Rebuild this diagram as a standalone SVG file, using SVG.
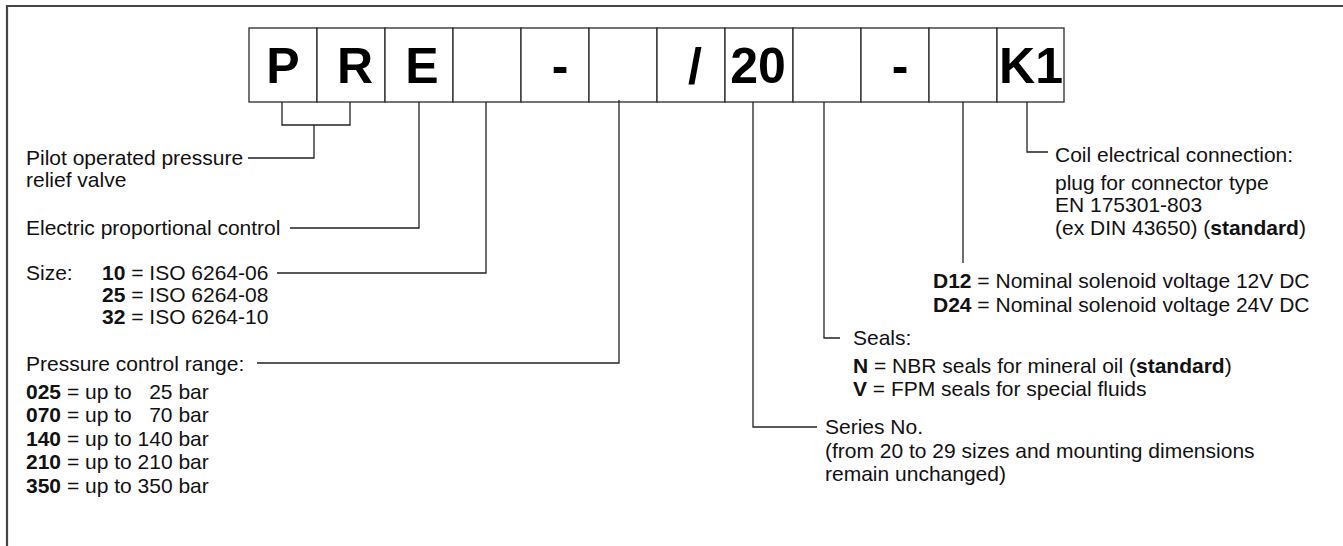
<svg xmlns="http://www.w3.org/2000/svg" width="1343" height="546" viewBox="0 0 1343 546">
<style>
.frame{fill:none;stroke:#444;stroke-width:2.2}
.box{fill:#fff;stroke:#2a2a2a;stroke-width:1.3}
.code{font-family:"Liberation Sans",Arial,sans-serif;font-weight:bold;font-size:50px;text-anchor:middle;fill:#000}
.t{font-family:"Liberation Sans",Arial,sans-serif;font-size:21px;fill:#111}
.b{font-weight:bold}
.conn{fill:none;stroke:#222;stroke-width:1.3}
</style>
<rect width="1343" height="546" fill="#fff"/>
<path class="frame" d="M7,546 V6 H1343"/>
<g id="code">
<g id="box-P"><rect class="box" x="249" y="28" width="68" height="74"/><text class="code" x="283" y="83">P</text></g>
<g id="box-R"><rect class="box" x="317" y="28" width="68" height="74"/><text class="code" x="355" y="83">R</text></g>
<g id="box-E"><rect class="box" x="385" y="28" width="68" height="74"/><text class="code" x="422" y="83">E</text></g>
<g id="box-size"><rect class="box" x="453" y="28" width="68" height="74"/></g>
<g id="box-dash1"><rect class="box" x="521" y="28" width="68" height="74"/><text class="code" x="560" y="83">-</text></g>
<g id="box-pressure"><rect class="box" x="589" y="28" width="68" height="74"/></g>
<g id="box-slash"><rect class="box" x="657" y="28" width="68" height="74"/><text class="code" x="695" y="83">/</text></g>
<g id="box-series"><rect class="box" x="725" y="28" width="68" height="74"/><text class="code" x="758" y="83">20</text></g>
<g id="box-seals"><rect class="box" x="793" y="28" width="68" height="74"/></g>
<g id="box-dash2"><rect class="box" x="861" y="28" width="68" height="74"/><text class="code" x="900" y="83">-</text></g>
<g id="box-voltage"><rect class="box" x="929" y="28" width="68" height="74"/></g>
<g id="box-K1"><rect class="box" x="997" y="28" width="67" height="74"/><text class="code" x="1031" y="83">K1</text></g>
</g>
<g id="connectors">
<path class="conn" d="M282,102 V125 H350 V102 M314,125 V158 H248"/>
<path class="conn" d="M419,102 V228 H290"/>
<path class="conn" d="M486,102 V273 H277"/>
<path class="conn" d="M619,100 V363 H257"/>
<path class="conn" d="M753,102 V427 H817"/>
<path class="conn" d="M824,102 V338 H840"/>
<path class="conn" d="M963,102 V263"/>
<path class="conn" d="M1027,102 V152 H1048"/>
</g>
<g id="label-pilot">
<text class="t" x="26" y="165">Pilot operated pressure</text>
<text class="t" x="26" y="187">relief valve</text>
</g>
<g id="label-electric">
<text class="t" x="26" y="235">Electric proportional control</text>
</g>
<g id="label-size">
<text class="t" x="26" y="280">Size:</text>
<text class="t" x="102" y="280"><tspan class="b">10</tspan> = ISO 6264-06</text>
<text class="t" x="102" y="302"><tspan class="b">25</tspan> = ISO 6264-08</text>
<text class="t" x="102" y="324"><tspan class="b">32</tspan> = ISO 6264-10</text>
</g>
<g id="label-pressure">
<text class="t" x="26" y="371">Pressure control range:</text>
<text class="t" x="26" y="399" xml:space="preserve"><tspan class="b">025</tspan> = up to   25 bar</text>
<text class="t" x="26" y="422" xml:space="preserve"><tspan class="b">070</tspan> = up to   70 bar</text>
<text class="t" x="26" y="446"><tspan class="b">140</tspan> = up to 140 bar</text>
<text class="t" x="26" y="469"><tspan class="b">210</tspan> = up to 210 bar</text>
<text class="t" x="26" y="493"><tspan class="b">350</tspan> = up to 350 bar</text>
</g>
<g id="label-series">
<text class="t" x="825" y="434">Series No.</text>
<text class="t" x="825" y="458">(from 20 to 29 sizes and mounting dimensions</text>
<text class="t" x="825" y="481">remain unchanged)</text>
</g>
<g id="label-seals">
<text class="t" x="853" y="345">Seals:</text>
<text class="t" x="853" y="373"><tspan class="b">N</tspan> = NBR seals for mineral oil (<tspan class="b">standard</tspan>)</text>
<text class="t" x="853" y="396"><tspan class="b">V</tspan> = FPM seals for special fluids</text>
</g>
<g id="label-voltage">
<text class="t" x="933" y="288"><tspan class="b">D12</tspan> = Nominal solenoid voltage 12V DC</text>
<text class="t" x="933" y="312"><tspan class="b">D24</tspan> = Nominal solenoid voltage 24V DC</text>
</g>
<g id="label-coil">
<text class="t" x="1055" y="162">Coil electrical connection:</text>
<text class="t" x="1055" y="190">plug for connector type</text>
<text class="t" x="1055" y="212">EN 175301-803</text>
<text class="t" x="1055" y="235">(ex DIN 43650) (<tspan class="b">standard</tspan>)</text>
</g>
</svg>
